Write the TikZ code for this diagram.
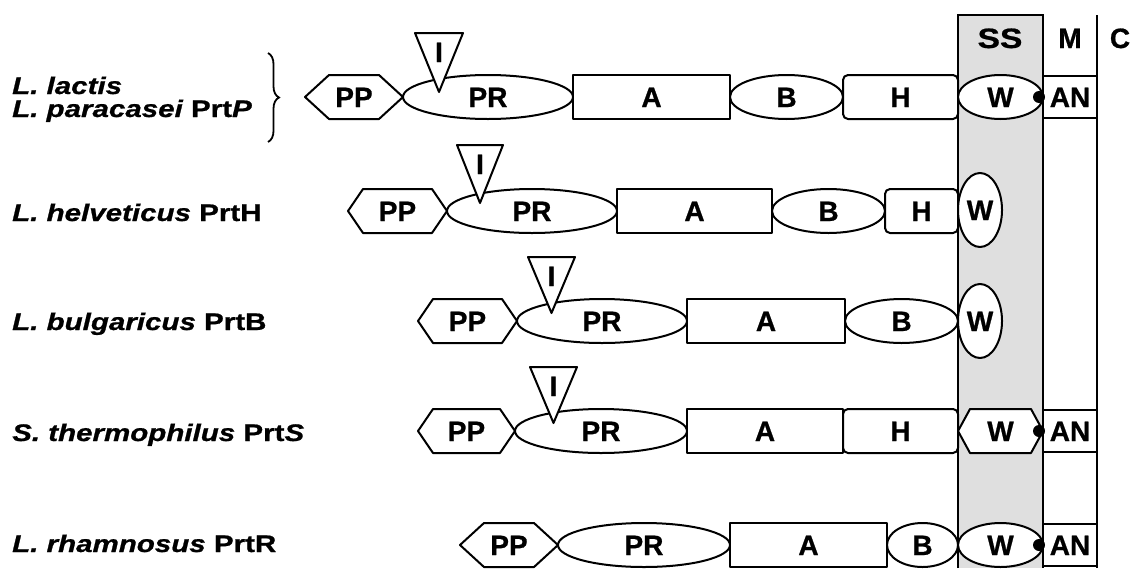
\documentclass[tikz,border=0pt]{standalone}
\usepackage{fontspec}
\setmainfont{Liberation Sans}[BoldFeatures={FakeBold=0.8}, BoldItalicFeatures={FakeBold=0.8}]
\usepackage{graphicx}
\usetikzlibrary{decorations.pathreplacing}
\tikzset{
  shp/.style={line width=2pt, draw=black, fill=white, line join=round},
  lbl/.style={font=\bfseries\fontsize{28}{28}\selectfont, inner sep=0pt, anchor=base},
  spc/.style={font=\bfseries\fontsize{24}{24}\selectfont, inner sep=0pt, anchor=base west},
}
\newcommand{\hexbox}[6]{%
  \draw[shp] (#1,#3) -- ({#1+#4},{#3-22}) -- ({#2-#4},{#3-22}) -- (#2,#3) -- ({#2-#4},{#3+22}) -- ({#1+#4},{#3+22}) -- cycle;
  \node[lbl] (#6) at ({(#1+#2)/2},{#3+10}) {#5};}
\newcommand{\ellbox}[5]{%
  \draw[shp] ({(#1+#2)/2},#3) ellipse [x radius={(#2-#1)/2}, y radius=22];
  \node[lbl] (#5) at ({(#1+#2)/2},{#3+10}) {#4};}
\newcommand{\recbox}[5]{%
  \draw[shp] (#1,{#3-22}) rectangle (#2,{#3+22});
  \node[lbl] (#5) at ({(#1+#2)/2},{#3+10}) {#4};}
\newcommand{\rndbox}[5]{%
  \draw[shp, rounded corners=5pt] (#1,{#3-22}) rectangle (#2,{#3+22});
  \node[lbl] (#5) at ({(#1+#2)/2},{#3+10}) {#4};}
\newcommand{\vwell}[2]{%
  \draw[shp] (980,#1) ellipse [x radius=22, y radius=37];
  \node[lbl] (#2) at (980,{#1+10}) {W};}
\newcommand{\anbox}[2]{%
  \draw[shp] (1043,{#1-21}) rectangle (1097,{#1+21});
  \fill (1039,#1) circle (6);
  \node[lbl] (#2) at (1070,{#1+10}) {AN};}
\newcommand{\inhib}[5]{%
  \draw[shp] (#1,#3) -- (#2,#3) -- ({(#1+#2)/2},#4) -- cycle;
  \node[lbl] (#5) at ({(#1+#2)/2},{#3+29}) {I};}
\newcommand{\spname}[4]{%
  \node[spc] (#4) at (12,{#1+9}) {\scalebox{1.23}[1]{{\itshape #2}#3}};}
\begin{document}
\begin{tikzpicture}[x=1pt,y=-1pt]
\useasboundingbox (0,0) rectangle (1134,568);
% SS band and membrane lines
\fill[gray!25] (958,15) rectangle (1043,568);
\draw[line width=2pt] (958,568) -- (958,15) -- (1043,15) -- (1043,568);
\draw[line width=2pt] (1097,15) -- (1097,568);
\node[lbl] (ss) at (1000,48) {\scalebox{1.2}[1]{SS}};
\node[lbl] (m) at (1070,48) {M};
\node[lbl] (c) at (1120,48) {C};
% Species labels
\spname{85}{L. lactis}{}{lac}
\spname{108}{L. paracasei }{Prt\textit{P}}{par}
\draw[line width=1.8pt, decorate, decoration={brace, amplitude=11pt}] (268,53) -- (268,142);
\spname{212}{L. helveticus }{PrtH}{hel}
\spname{321}{L. bulgaricus }{PrtB}{bul}
\spname{432}{S. thermophilus }{Prt\textit{S}}{the}
\spname{543}{L. rhamnosus }{PrtR}{rha}
% Row 1
\hexbox{305}{403}{97}{24}{PP}{pp1}
\ellbox{403}{573}{97}{PR}{pr1}
\recbox{573}{730}{97}{A}{a1}
\ellbox{730}{843}{97}{B}{b1}
\rndbox{843}{958}{97}{H}{h1}
\ellbox{958}{1043}{97}{W}{w1}
\anbox{97}{an1}
\inhib{415}{463}{33}{92}{i1}
% Row 2
\hexbox{348}{447}{211}{15}{PP}{pp2}
\ellbox{447}{617}{211}{PR}{pr2}
\recbox{617}{772}{211}{A}{a2}
\ellbox{772}{885}{211}{B}{b2}
\rndbox{885}{958}{211}{H}{h2}
\vwell{210}{w2}
\inhib{457}{503}{145}{203}{i2}
% Row 3
\hexbox{418}{517}{321}{15}{PP}{pp3}
\ellbox{517}{687}{321}{PR}{pr3}
\recbox{687}{845}{321}{A}{a3}
\ellbox{845}{958}{321}{B}{b3}
\vwell{321}{w3}
\inhib{528}{575}{257}{313}{i3}
% Row 4
\hexbox{418}{515}{431}{15}{PP}{pp4}
\ellbox{515}{687}{431}{PR}{pr4}
\recbox{687}{843}{431}{A}{a4}
\rndbox{843}{958}{431}{H}{h4}
\hexbox{958}{1043}{431}{12}{W}{w4}
\anbox{431}{an4}
\inhib{530}{577}{367}{423}{i4}
% Row 5
\hexbox{460}{558}{545}{24}{PP}{pp5}
\ellbox{558}{730}{545}{PR}{pr5}
\recbox{730}{887}{545}{A}{a5}
\ellbox{887}{958}{545}{B}{b5}
\ellbox{958}{1043}{545}{W}{w5}
\anbox{545}{an5}
\end{tikzpicture}
\end{document}
